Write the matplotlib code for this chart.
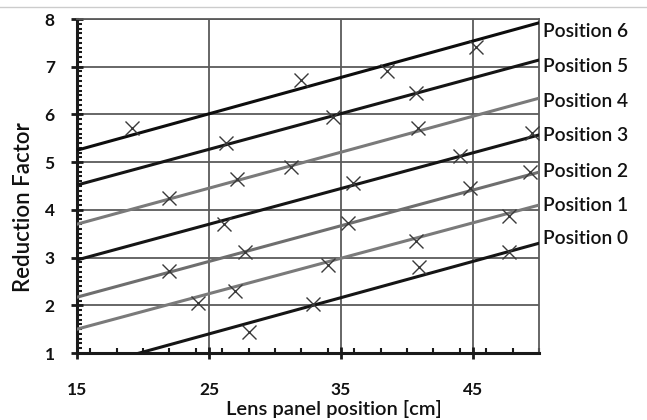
import matplotlib
matplotlib.use("Agg")
import matplotlib.pyplot as plt
from matplotlib.ticker import MultipleLocator
from matplotlib.lines import Line2D
import numpy as np

plt.rcParams['font.family'] = ['Lato', 'DejaVu Sans']

# Measured points (Lens panel position [cm], Reduction Factor)
pos6_x = [19.2, 32.0, 38.5, 45.2]
pos6_y = [5.71, 6.72, 6.91, 7.41]
pos5_x = [26.3, 34.4, 40.7]
pos5_y = [5.40, 5.95, 6.45]
pos4_x = [22.0, 27.1, 31.2, 40.8]
pos4_y = [4.25, 4.65, 4.90, 5.71]
pos3_x = [26.1, 35.9, 44.0, 49.5]
pos3_y = [3.70, 4.56, 5.13, 5.61]
pos2_x = [22.0, 27.7, 35.5, 44.8, 49.3]
pos2_y = [2.72, 3.12, 3.72, 4.46, 4.79]
pos1_x = [24.2, 27.0, 34.0, 40.7, 47.7]
pos1_y = [2.05, 2.30, 2.84, 3.35, 3.87]
pos0_x = [28.0, 32.9, 40.9, 47.7]
pos0_y = [1.44, 2.02, 2.80, 3.12]

# Trend lines: values at x = 15 and x = 50
trend_x = [15, 50]
trend6 = [5.25, 7.92]
trend5 = [4.52, 7.14]
trend4 = [3.70, 6.34]
trend3 = [2.95, 5.57]
trend2 = [2.17, 4.79]
trend1 = [1.50, 4.10]
trend0 = [0.64, 3.30]

labels = ["Position 6", "Position 5", "Position 4", "Position 3",
          "Position 2", "Position 1", "Position 0"]
label_y = [7.73, 7.0, 6.27, 5.55, 4.81, 4.10, 3.40]

series = [
    (pos6_x, pos6_y, trend6, '#0d0d0d'),
    (pos5_x, pos5_y, trend5, '#151515'),
    (pos4_x, pos4_y, trend4, '#7a7a7a'),
    (pos3_x, pos3_y, trend3, '#151515'),
    (pos2_x, pos2_y, trend2, '#6e6e6e'),
    (pos1_x, pos1_y, trend1, '#7a7a7a'),
    (pos0_x, pos0_y, trend0, '#151515'),
]

fig = plt.figure(figsize=(6.47, 4.2), dpi=100)
ax = fig.add_axes([77/647, 67/420, (539-77)/647, (353-19)/420])

ax.set_xlim(15, 50)
ax.set_ylim(1, 8)
ax.xaxis.set_major_locator(MultipleLocator(10))
ax.xaxis.set_minor_locator(MultipleLocator(2))
ax.yaxis.set_major_locator(MultipleLocator(1))
ax.yaxis.set_minor_locator(MultipleLocator(0.1))
ax.set_xticks([15, 25, 35, 45])

ax.grid(True, which='major', color='#5a5a5a', lw=1.3, zorder=0)
ax.set_axisbelow(True)

for xs, ys, tr, col in series:
    ax.plot(trend_x, tr, color=col, lw=2.2, zorder=3, clip_on=True)
    ax.plot(xs, ys, linestyle='none', marker='x', ms=10, mew=1.0,
            color='#3a3a3a', zorder=4, clip_on=False)

for lab, ly in zip(labels, label_y):
    ax.text(50.3, ly, lab, fontsize=13.8, color='#111111', va='center',
            ha='left', clip_on=False, fontweight='semibold')

for s in ['left', 'bottom']:
    ax.spines[s].set_color('#1a1a1a')
    ax.spines[s].set_linewidth(2.2)
for s in ['top', 'right']:
    ax.spines[s].set_color('#5a5a5a')
    ax.spines[s].set_linewidth(1.3)

ax.tick_params(axis='both', which='major', direction='inout', length=8,
               width=2, color='#1a1a1a', labelsize=12.5, labelcolor='#111111')
ax.tick_params(axis='y', which='major', pad=12)
ax.tick_params(axis='x', which='major', pad=17)
ax.tick_params(axis='both', which='minor', direction='in', length=3.5,
               width=1.5, color='#1a1a1a')
for t in ax.get_xticklabels() + ax.get_yticklabels():
    t.set_fontweight('bold')

ax.set_xlabel("Lens panel position [cm]", fontsize=14.5, color='#111111',
              fontweight='semibold')
ax.xaxis.set_label_coords(0.556, -0.142)
ax.set_ylabel("Reduction Factor", fontsize=16, color='#111111',
              fontweight='semibold')
ax.yaxis.set_label_coords(-0.093, 0.437)

fig.add_artist(Line2D([0, 1], [1 - 7/420, 1 - 7/420], color='#cccccc',
                      lw=1, transform=fig.transFigure))

fig.savefig("out.png", dpi=100)
